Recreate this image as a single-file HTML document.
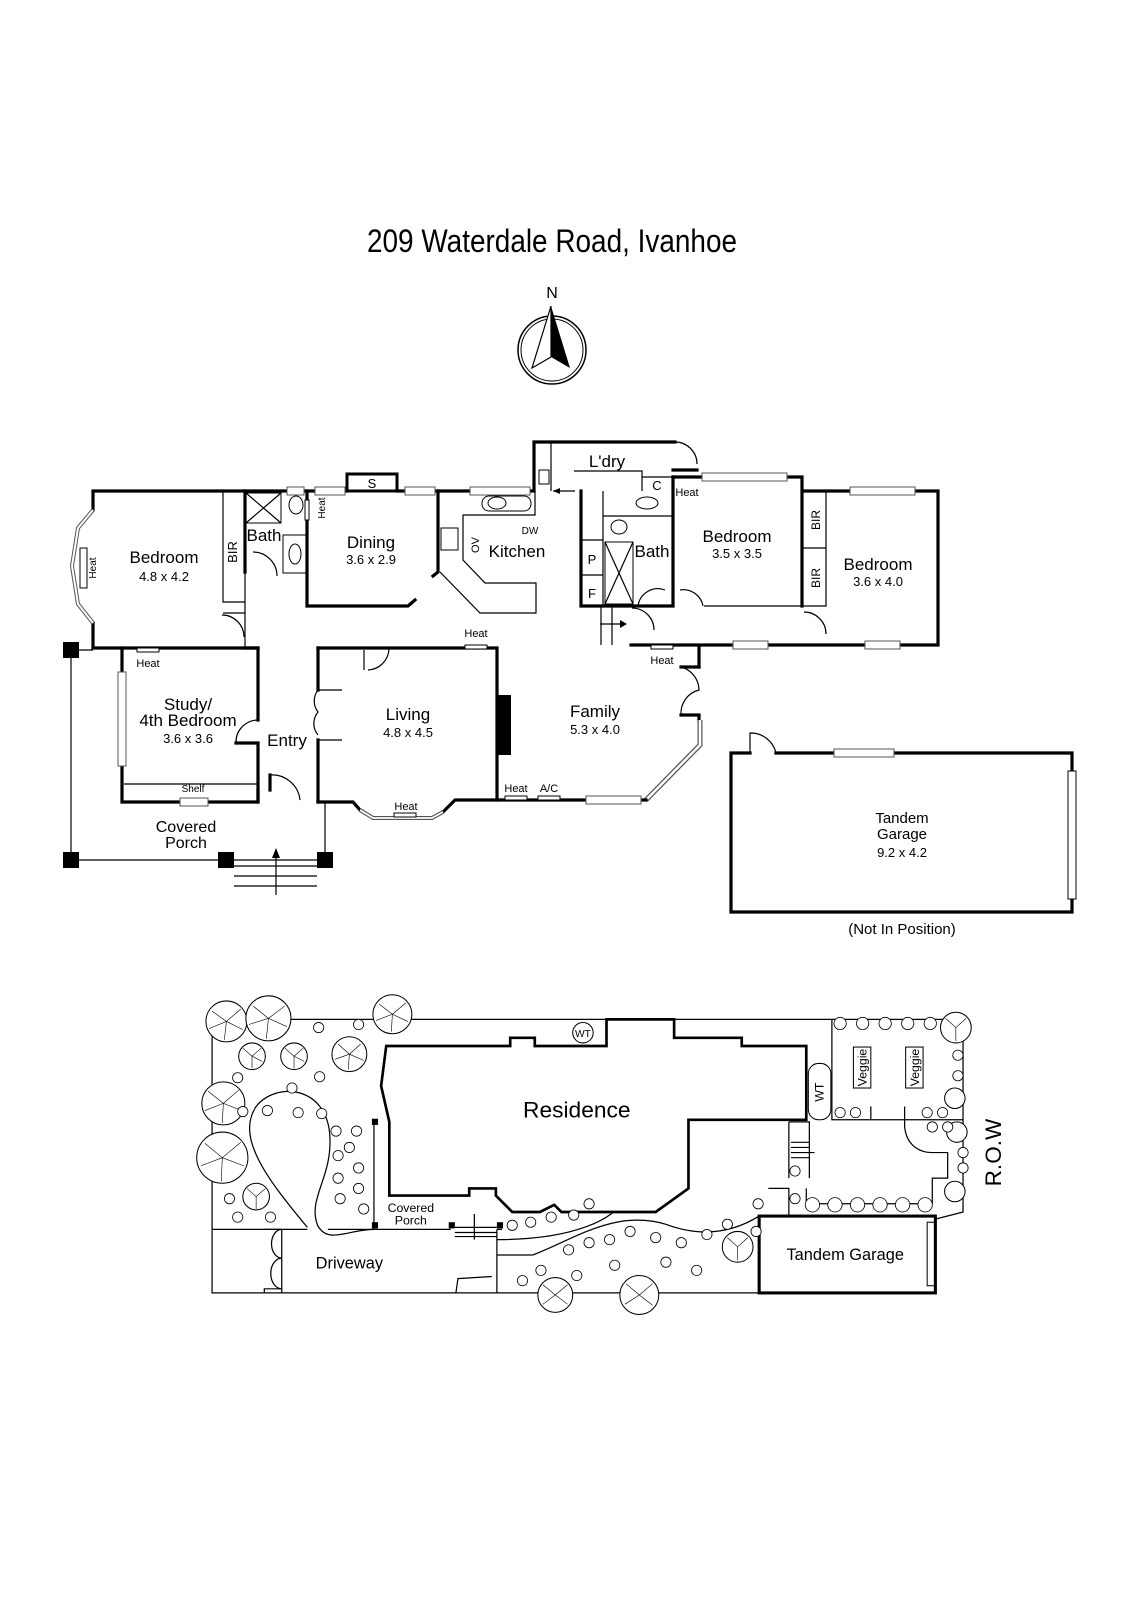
<!DOCTYPE html>
<html><head><meta charset="utf-8"><style>
html,body{margin:0;padding:0;background:#fff;}
svg{display:block;}
text{font-family:"Liberation Sans",sans-serif;fill:#000;}
.w{stroke:#000;stroke-width:3.2;fill:none;stroke-linecap:square;}
.t{stroke:#000;stroke-width:1.2;fill:none;}
.win{fill:#fff;stroke:#555;stroke-width:1;}
.rn{font-size:17px;text-anchor:middle;}
.dm{font-size:13px;text-anchor:middle;}
.sm{font-size:10px;text-anchor:middle;}
</style></head><body>
<svg width="1131" height="1600" viewBox="0 0 1131 1600" xmlns="http://www.w3.org/2000/svg">
<rect width="1131" height="1600" fill="#fff"/>
<text x="367" y="252" font-size="32" textLength="370" lengthAdjust="spacingAndGlyphs">209 Waterdale Road, Ivanhoe</text>
<text x="552" y="298" font-size="16" text-anchor="middle">N</text>
<circle cx="552" cy="350" r="34" fill="none" stroke="#000" stroke-width="1.5"/>
<circle cx="552" cy="350" r="31" fill="none" stroke="#000" stroke-width="1"/>
<polygon points="551,306 532,368 551,357" fill="#fff" stroke="#000" stroke-width="1.2"/>
<polygon points="551,306 570,368 551,357" fill="#000"/>

<!-- TOP PLAN -->
<path class="w" d="M93,510 L93,491 L347,491 M397,491 L534,491 M534,491 L534,442 L675,442"/>
<path class="w" d="M93,623 L93,648 L258,648"/>
<rect x="347" y="474" width="50" height="17" fill="#fff" stroke="#000" stroke-width="3"/>
<text x="372" y="488" font-size="13" text-anchor="middle">S</text>
<path d="M93,510 L78,528 L72,566 L78,604 L93,623" fill="none" stroke="#555" stroke-width="4"/>
<path d="M93,510 L78,528 L72,566 L78,604 L93,623" fill="none" stroke="#fff" stroke-width="2"/>
<rect x="80" y="548" width="7" height="40" fill="#fff" stroke="#000"/>
<text transform="translate(96,568) rotate(-90)" class="sm">Heat</text>
<path class="t" d="M223,491 L223,602 L245,602 L245,491 M223,613 L245,613 M245,602 L245,648"/>
<path class="w" d="M245,491 L245,572 M307,491 L307,606 L408,606 L415,600"/>
<rect x="246" y="493" width="35" height="30" fill="none" stroke="#000"/>
<path class="t" d="M246,493 L281,523 M281,493 L246,523"/>
<ellipse cx="296" cy="505" rx="7" ry="9" fill="none" stroke="#000"/>
<rect x="283" y="535" width="24" height="38" fill="none" stroke="#000"/>
<ellipse cx="295" cy="554" rx="6" ry="10" fill="none" stroke="#000"/>
<path class="t" d="M253,552 A24,24 0 0 1 277,576"/>
<path class="t" d="M222,615 A22,22 0 0 1 244,637"/>
<rect x="305" y="500" width="4" height="20" fill="#fff" stroke="#000"/>
<text transform="translate(325,508) rotate(-90)" class="sm">Heat</text>
<text x="233" y="548" class="dm" transform="rotate(-90 237 548)" style="font-size:13px">BIR</text>
<text x="264" y="541" class="rn">Bath</text>
<text x="164" y="563" class="rn">Bedroom</text>
<text x="164" y="581" class="dm">4.8 x 4.2</text>
<rect x="287" y="487" width="17" height="8" class="win"/>
<rect x="315" y="487" width="30" height="8" class="win"/>
<rect x="405" y="487" width="30" height="8" class="win"/>
<rect x="470" y="487" width="60" height="8" class="win"/>
<text x="371" y="548" class="rn">Dining</text>
<text x="371" y="564" class="dm">3.6 x 2.9</text>
<path class="w" d="M438,491 L438,572 L433,576"/>
<path class="t" d="M440,572 L480,613 L536,613 L536,583 L485,583 L463,560 L463,515 L535,515 L535,491"/>
<rect x="482" y="496" width="49" height="15" rx="7" fill="none" stroke="#000"/>
<ellipse cx="497" cy="503" rx="9" ry="6" fill="none" stroke="#000"/>
<rect x="441" y="528" width="17" height="22" fill="none" stroke="#000"/>
<text transform="translate(479,545) rotate(-90)" font-size="11" text-anchor="middle">OV</text>
<text x="530" y="534" font-size="10" text-anchor="middle">DW</text>
<text x="517" y="557" class="rn">Kitchen</text>
<path class="t" d="M551,442 L551,491 M574,471 L642,471 L642,491 M642,477 L673,477"/>
<rect x="539" y="470" width="10" height="14" fill="none" stroke="#000"/>
<path class="t" d="M675,442 A22,22 0 0 1 697,464"/>
<path class="w" d="M673,470 L697,470"/>
<path class="t" d="M575,491 L553,491"/><polygon points="553,491 560,488 560,494"/>
<text x="607" y="467" class="rn">L'dry</text>
<text x="657" y="490" font-size="13" text-anchor="middle">C</text>
<path class="w" d="M673,477 L673,606 M581,491 L581,606 L673,606"/>
<path class="t" d="M603,491 L603,606 M581,540 L603,540 M581,575 L603,575 M603,516 L673,516"/>
<rect x="605" y="542" width="28" height="62" fill="none" stroke="#000"/>
<path class="t" d="M605,542 L633,604 M633,542 L605,604"/>
<ellipse cx="647" cy="503" rx="11" ry="6" fill="none" stroke="#000"/>
<ellipse cx="619" cy="527" rx="8" ry="7" fill="none" stroke="#000"/>
<text x="592" y="564" font-size="13" text-anchor="middle">P</text>
<text x="592" y="598" font-size="13" text-anchor="middle">F</text>
<text x="652" y="557" class="rn">Bath</text>
<text x="687" y="496" font-size="11" text-anchor="middle">Heat</text>
<path class="t" d="M638,606 A20,20 0 0 1 665,590 M680,590 A20,20 0 0 1 703,606"/>
<path class="t" d="M612,606 L612,645 M601,606 L601,645 M632,608 A22,22 0 0 1 654,630"/>
<path class="t" d="M600,624 L625,624"/><polygon points="627,624 620,620 620,628"/>
<path class="w" d="M673,477 L802,477 L802,491 L938,491 L938,645 L699,645 L699,667 M631,645 L699,645 M802,477 L802,606"/>
<path class="t" d="M802,491 L826,491 L826,606 L802,606 M802,548 L826,548 M704,606 L802,606"/>
<rect x="702" y="473" width="85" height="8" class="win"/>
<rect x="850" y="487" width="65" height="8" class="win"/>
<rect x="733" y="641" width="35" height="8" class="win"/>
<rect x="865" y="641" width="35" height="8" class="win"/>
<path class="t" d="M804,612 A22,22 0 0 1 826,634"/>
<text transform="translate(820,520) rotate(-90)" font-size="12" text-anchor="middle">BIR</text>
<text transform="translate(820,578) rotate(-90)" font-size="12" text-anchor="middle">BIR</text>
<text x="737" y="542" class="rn">Bedroom</text>
<text x="737" y="558" class="dm">3.5 x 3.5</text>
<text x="878" y="570" class="rn">Bedroom</text>
<text x="878" y="586" class="dm">3.6 x 4.0</text>
<rect x="651" y="645" width="22" height="4" fill="#fff" stroke="#000"/>
<text x="662" y="664" font-size="11" text-anchor="middle">Heat</text>
<path class="w" d="M681,667 L699,667 M681,715 L699,715 L699,720"/>
<path class="t" d="M681,667 A24,24 0 0 1 699,690 A24,24 0 0 0 681,715"/>
<path d="M700,720 L700,745 L646,800" fill="none" stroke="#555" stroke-width="5"/>
<path d="M700,720 L700,745 L646,800" fill="none" stroke="#fff" stroke-width="2.5"/>
<path class="w" d="M497,800 L586,800 M640,800 L646,800"/>
<rect x="586" y="796" width="55" height="8" class="win"/>
<text x="595" y="717" class="rn">Family</text>
<text x="595" y="734" class="dm">5.3 x 4.0</text>
<rect x="505" y="796" width="22" height="4" fill="#fff" stroke="#000"/>
<rect x="538" y="796" width="22" height="4" fill="#fff" stroke="#000"/>
<text x="516" y="792" font-size="11" text-anchor="middle">Heat</text>
<text x="549" y="792" font-size="11" text-anchor="middle">A/C</text>
<path class="w" d="M122,648 L122,672 M122,765 L122,802 L258,802 L258,745 M258,720 L258,648 M258,648 L245,648"/>
<rect x="118" y="672" width="8" height="94" class="win"/>
<path class="t" d="M124,784 L258,784"/>
<rect x="180" y="798" width="28" height="8" class="win"/>
<path class="t" d="M236,742 A22,22 0 0 1 258,720"/>
<path class="w" d="M236,743 L258,743"/>
<rect x="137" y="648" width="22" height="4" fill="#fff" stroke="#000"/>
<text x="148" y="667" font-size="11" text-anchor="middle">Heat</text>
<text x="193" y="792" font-size="10" text-anchor="middle">Shelf</text>
<text x="188" y="710" class="rn">Study/</text>
<text x="188" y="726" class="rn">4th Bedroom</text>
<text x="188" y="743" class="dm">3.6 x 3.6</text>
<path class="w" d="M318,648 L318,690 M318,740 L318,802 M258,790 L258,802 M270,775 L270,790"/>
<path class="t" d="M270,775 A28,28 0 0 1 300,800"/>
<path class="t" d="M318,690 A18,18 0 0 0 318,712 A18,18 0 0 0 318,735 M318,690 L342,690 M318,740 L342,740"/>
<path class="t" d="M318,802 L325,802 L325,860"/>
<text x="287" y="746" class="rn">Entry</text>
<path class="w" d="M318,648 L497,648 L497,800 L455,800 L443,812 M318,802 L353,802 L360,810"/>
<path d="M360,810 L373,818 L432,818 L443,812" fill="none" stroke="#555" stroke-width="4"/>
<path d="M360,810 L373,818 L432,818 L443,812" fill="none" stroke="#fff" stroke-width="1.8"/>
<path class="t" d="M364,650 L364,670 M368,670 A22,22 0 0 0 389,649"/>
<rect x="497" y="695" width="14" height="60" fill="#000"/>
<rect x="465" y="645" width="22" height="4" fill="#fff" stroke="#000"/>
<text x="476" y="637" font-size="11" text-anchor="middle">Heat</text>
<rect x="394" y="813" width="22" height="4" fill="#fff" stroke="#000"/>
<text x="406" y="810" font-size="11" text-anchor="middle">Heat</text>
<text x="408" y="720" class="rn">Living</text>
<text x="408" y="737" class="dm">4.8 x 4.5</text>
<path class="t" d="M71,650 L93,650 M71,650 L71,860 L325,860"/>
<rect x="63" y="642" width="16" height="16" fill="#000"/>
<rect x="63" y="852" width="16" height="16" fill="#000"/>
<rect x="218" y="852" width="16" height="16" fill="#000"/>
<rect x="317" y="852" width="16" height="16" fill="#000"/>
<path class="t" d="M234,866 L317,866 M234,876 L317,876 M234,886 L317,886 M276,895 L276,850"/>
<polygon points="276,848 272,858 280,858"/>
<text x="186" y="832" font-size="16" text-anchor="middle">Covered</text>
<text x="186" y="848" font-size="16" text-anchor="middle">Porch</text>

<path class="w" d="M750,753 L731,753 L731,912 L1072,912 L1072,753 L776,753"/>
<path class="t" d="M750,753 L750,733 A26,26 0 0 1 776,753"/>
<rect x="834" y="749" width="60" height="8" class="win"/>
<rect x="1068" y="771" width="8" height="128" fill="#fff" stroke="#000"/>
<text x="902" y="823" font-size="15" text-anchor="middle">Tandem</text>
<text x="902" y="839" font-size="15" text-anchor="middle">Garage</text>
<text x="902" y="857" class="dm">9.2 x 4.2</text>
<text x="902" y="934" font-size="15" text-anchor="middle">(Not In Position)</text>

<g transform="scale(1.0245)">
<path class="t" d="M207,995 L812,995 M207,995 L207,1262 L913,1262 M940,1000 L940,1183 L913,1190"/>
<path class="t" d="M207,1200 L300,1200 M320,1200 L440,1200 M485,1200 L485,1262 M485,1225 L520,1225 M485,1200 L490,1200"/>
<path class="t" d="M300,1198 C260,1150 230,1110 250,1080 C270,1055 320,1060 322,1110 C324,1150 300,1170 310,1196 C320,1215 340,1200 365,1200"/>
<path class="t" d="M365,1095 L365,1200"/>
<path class="t" d="M258,1200 L275,1200 A10,14 0 0 0 275,1228 A10,14 0 0 0 275,1258 L258,1258 L258,1262 M275,1200 L275,1262"/>
<path class="t" d="M485,1210 C560,1210 600,1190 610,1170 M520,1225 C560,1210 600,1180 650,1195 C690,1210 720,1200 741,1187"/>
<path class="t" d="M445,1262 L447,1248 L480,1246"/>
<path d="M377,1021 L498,1021 L498,1013 L522,1013 L522,1021 L592,1021 L592,995 L658,995 L658,1013 L724,1013 L724,1021 L787,1021 L787,1093 L672,1093 L672,1160 L640,1183 L548,1183 L541,1176 L527,1183 L500,1183 L484,1167 L484,1160 L458,1160 L458,1167 L380,1167 L380,1095 L372,1060 L377,1021 Z" fill="#fff" stroke="#000" stroke-width="2.6"/>
<circle cx="569" cy="1008" r="10" fill="#fff" stroke="#000"/>
<text x="569" y="1012" font-size="10" text-anchor="middle">WT</text>
<text x="563" y="1091" font-size="22" text-anchor="middle" textLength="105" lengthAdjust="spacingAndGlyphs">Residence</text>
<rect x="363" y="1092" width="6" height="6" fill="#000"/><rect x="363" y="1193" width="6" height="6" fill="#000"/>
<rect x="438" y="1193" width="6" height="6" fill="#000"/><rect x="485" y="1193" width="6" height="6" fill="#000"/>
<path class="t" d="M444,1198 L485,1198 M444,1203 L485,1203 M444,1207 L485,1207 M463,1210 L463,1185"/>
<text x="401" y="1183" font-size="12" text-anchor="middle">Covered</text>
<text x="401" y="1195" font-size="12" text-anchor="middle">Porch</text>
<text x="341" y="1238" font-size="16" text-anchor="middle">Driveway</text>
<path class="t" d="M812,995 L940,995 M812,995 L812,1093 L940,1093 M850,1093 L850,1080 M883,1080 L883,1100 C885,1120 900,1125 910,1125 L925,1125 L925,1150 L910,1150 L910,1175 M787,1160 L787,1175 L900,1175 M770,1095 L790,1095 L790,1150 M770,1095 L770,1150 M750,1160 L770,1160 L770,1187"/>
<path class="t" d="M772,1115 L790,1115 M772,1120 L790,1120 M772,1125 L790,1125 M772,1130 L790,1130 M778,1125 L795,1125"/>
<rect x="789" y="1038" width="22" height="55" rx="10" fill="#fff" stroke="#000"/>
<text transform="translate(804,1066) rotate(-90)" font-size="12" text-anchor="middle">WT</text>
<rect x="833" y="1022" width="17" height="40" fill="#fff" stroke="#000"/>
<rect x="884" y="1022" width="17" height="40" fill="#fff" stroke="#000"/>
<text transform="translate(846,1042) rotate(-90)" font-size="12" text-anchor="middle">Veggie</text>
<text transform="translate(897,1042) rotate(-90)" font-size="12" text-anchor="middle">Veggie</text>
<text transform="translate(977,1125) rotate(-90)" font-size="22" text-anchor="middle">R.O.W</text>
<rect x="741" y="1187" width="172" height="75" fill="#fff" stroke="#000" stroke-width="3"/>
<rect x="905" y="1193" width="7" height="62" fill="#fff" stroke="#000"/>
<text x="825" y="1230" font-size="16" text-anchor="middle">Tandem Garage</text>
<g fill="#fff" stroke="#000" stroke-width="1">
<circle cx="221" cy="997" r="20"/><circle cx="262" cy="994" r="22"/><circle cx="383" cy="990" r="19"/>
<circle cx="246" cy="1031" r="13"/><circle cx="287" cy="1031" r="13"/><circle cx="341" cy="1029" r="17"/>
<circle cx="218" cy="1077" r="21"/><circle cx="217" cy="1130" r="25"/><circle cx="250" cy="1168" r="13"/>
<circle cx="624" cy="1264" r="19"/><circle cx="542" cy="1264" r="17"/><circle cx="720" cy="1217" r="15"/>
<circle cx="933" cy="1003" r="15"/><circle cx="932" cy="1072" r="10"/><circle cx="934" cy="1105" r="10"/><circle cx="932" cy="1163" r="10"/>
</g>
<g fill="none" stroke="#000" stroke-width="0.6">
<path d="M221,997 l-14,-10 m14,10 l14,-12 m-14,12 l-2,18 m2,-18 l16,8 m-16,-8 l-17,7"/>
<path d="M262,994 l-15,-12 m15,12 l16,-12 m-16,12 l-2,20 m2,-20 l18,8 m-18,-8 l-19,6"/>
<path d="M383,990 l-13,-10 m13,10 l13,-11 m-13,11 l-1,17 m1,-17 l15,7 m-15,-7 l-16,6"/>
<path d="M341,1029 l-11,-10 m11,10 l11,-10 m-11,10 l-1,15 m1,-15 l14,6 m-14,-6 l-14,5"/>
<path d="M218,1077 l-15,-12 m15,12 l15,-13 m-15,13 l-1,19 m1,-19 l18,7 m-18,-7 l-18,7"/>
<path d="M217,1130 l-17,-14 m17,14 l18,-15 m-18,15 l-1,23 m1,-23 l21,8 m-21,-8 l-21,8"/>
<path d="M624,1264 l-13,-11 m13,11 l13,-11 m-13,11 l13,10 m-13,-10 l-14,9"/>
<path d="M542,1264 l-12,-10 m12,10 l12,-10 m-12,10 l12,9 m-12,-9 l-12,9"/>
<path d="M246,1031 l-9,-8 m9,8 l9,-8 m-9,8 l0,12 m0,-12 l10,5"/>
<path d="M287,1031 l-9,-8 m9,8 l9,-8 m-9,8 l0,12 m0,-12 l10,5"/>
<path d="M933,1003 l-10,-9 m10,9 l10,-9 m-10,9 l0,13"/>
<path d="M720,1217 l-10,-9 m10,9 l10,-9 m-10,9 l0,13"/>
<path d="M250,1168 l-9,-8 m9,8 l9,-8 m-9,8 l0,12"/>
</g>
<g fill="#fff" stroke="#000" stroke-width="0.8">
<circle cx="232" cy="1052" r="5"/><circle cx="285" cy="1062" r="5"/><circle cx="237" cy="1085" r="5"/><circle cx="261" cy="1084" r="5"/><circle cx="291" cy="1086" r="5"/><circle cx="314" cy="1087" r="5"/><circle cx="350" cy="1000" r="5"/><circle cx="311" cy="1003" r="5"/><circle cx="312" cy="1051" r="5"/>
<circle cx="328" cy="1104" r="5"/><circle cx="348" cy="1104" r="5"/><circle cx="341" cy="1120" r="5"/><circle cx="330" cy="1128" r="5"/><circle cx="350" cy="1140" r="5"/><circle cx="330" cy="1150" r="5"/><circle cx="350" cy="1160" r="5"/><circle cx="332" cy="1170" r="5"/><circle cx="355" cy="1180" r="5"/>
<circle cx="224" cy="1170" r="5"/><circle cx="232" cy="1188" r="5"/><circle cx="264" cy="1188" r="5"/>
<circle cx="500" cy="1196" r="5"/><circle cx="518" cy="1193" r="5"/><circle cx="538" cy="1188" r="5"/><circle cx="560" cy="1186" r="5"/><circle cx="575" cy="1175" r="5"/>
<circle cx="528" cy="1240" r="5"/><circle cx="555" cy="1220" r="5"/><circle cx="575" cy="1213" r="5"/><circle cx="595" cy="1210" r="5"/><circle cx="615" cy="1202" r="5"/><circle cx="640" cy="1208" r="5"/><circle cx="665" cy="1213" r="5"/><circle cx="690" cy="1205" r="5"/><circle cx="710" cy="1195" r="5"/><circle cx="600" cy="1235" r="5"/><circle cx="650" cy="1232" r="5"/><circle cx="680" cy="1240" r="5"/><circle cx="510" cy="1250" r="5"/><circle cx="563" cy="1245" r="5"/><circle cx="738" cy="1202" r="5"/><circle cx="740" cy="1175" r="5"/>
<circle cx="820" cy="999" r="6"/><circle cx="842" cy="999" r="6"/><circle cx="864" cy="999" r="6"/><circle cx="886" cy="999" r="6"/><circle cx="908" cy="999" r="6"/>
<circle cx="935" cy="1030" r="5"/><circle cx="935" cy="1050" r="5"/><circle cx="940" cy="1125" r="5"/><circle cx="940" cy="1140" r="5"/>
<circle cx="820" cy="1086" r="5"/><circle cx="835" cy="1086" r="5"/><circle cx="905" cy="1086" r="5"/><circle cx="920" cy="1086" r="5"/><circle cx="910" cy="1100" r="5"/><circle cx="925" cy="1100" r="5"/>
<circle cx="776" cy="1143" r="5"/><circle cx="776" cy="1170" r="5"/>
<circle cx="793" cy="1176" r="7"/><circle cx="815" cy="1176" r="7"/><circle cx="837" cy="1176" r="7"/><circle cx="859" cy="1176" r="7"/><circle cx="881" cy="1176" r="7"/><circle cx="903" cy="1176" r="7"/>
</g>
</g>
</svg>
</body></html>
